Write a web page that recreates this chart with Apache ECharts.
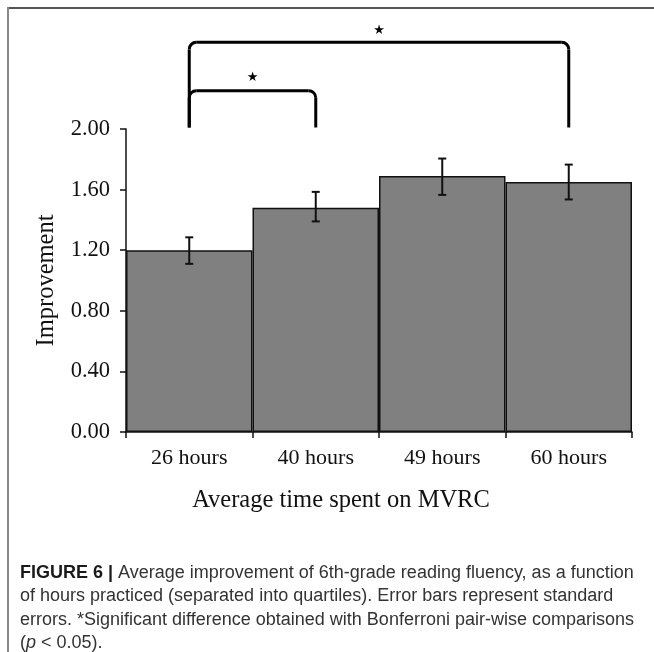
<!DOCTYPE html>
<html>
<head>
<meta charset="utf-8">
<script src="https://cdn.jsdelivr.net/npm/echarts@6/dist/echarts.min.js"></script>
<style>
html,body{margin:0;padding:0;background:#fff;}
#chart{width:654px;height:652px;}
</style>
</head>
<body>
<div id="chart"></div>
<script>
// ---- data ----
var categories = ['26 hours', '40 hours', '49 hours', '60 hours'];
var improvement = [1.20, 1.48, 1.69, 1.65];
var errLow = [1.11, 1.39, 1.565, 1.535];
var errHigh = [1.285, 1.585, 1.805, 1.765];
var yTicks = [0, 0.4, 0.8, 1.2, 1.6, 2.0];
// significance brackets
var bracketFrom = [0, 0];
var bracketTo = [1, 3];
var bracketTop = [2.253, 2.572];
var bracketLegBottom = [2.01, 2.01];
var bracketStar = [2.34, 2.652];
var captionBold = 'FIGURE 6 |';
var captionLines = [
  ' Average improvement of 6th-grade reading fluency, as a function',
  'of hours practiced (separated into quartiles). Error bars represent standard',
  'errors. *Significant difference obtained with Bonferroni pair-wise comparisons',
  '(p < 0.05).'
];

var serif = '"Liberation Serif", "Times New Roman", serif';
var sans = '"Liberation Sans", Arial, Helvetica, sans-serif';

var chart = echarts.init(document.getElementById('chart'), null, {renderer: 'canvas'});

var errData = categories.map(function (c, i) { return [i, errLow[i], errHigh[i]]; });
var bracketData = bracketFrom.map(function (f, i) {
  return [f, bracketTo[i], bracketTop[i], bracketLegBottom[i], bracketStar[i]];
});

function renderErr(params, api) {
  var x = api.value(0);
  var lo = api.coord([x, api.value(1)]);
  var hi = api.coord([x, api.value(2)]);
  var cap = 4;
  var st = {stroke: '#111', lineWidth: 2};
  return {
    type: 'group',
    children: [
      {type: 'line', shape: {x1: lo[0], y1: lo[1], x2: hi[0], y2: hi[1]}, style: st},
      {type: 'line', shape: {x1: lo[0] - cap, y1: lo[1], x2: lo[0] + cap, y2: lo[1]}, style: st},
      {type: 'line', shape: {x1: hi[0] - cap, y1: hi[1], x2: hi[0] + cap, y2: hi[1]}, style: st}
    ]
  };
}

function renderBracket(params, api) {
  var a = api.value(0), b = api.value(1);
  var top = api.value(2), bot = api.value(3), star = api.value(4);
  var pl = api.coord([a, top]);
  var pr = api.coord([b, top]);
  var bl = api.coord([a, bot]);
  var br = api.coord([b, bot]);
  var ps = api.coord([a, star]);
  var sx = (pl[0] + pr[0]) / 2;
  var r = 7;
  var st = {stroke: '#000', lineWidth: 3, fill: null};
  return {
    type: 'group',
    children: [
      {type: 'line', shape: {x1: bl[0], y1: bl[1], x2: pl[0], y2: pl[1] + r}, style: st},
      {type: 'line', shape: {x1: br[0], y1: br[1], x2: pr[0], y2: pr[1] + r}, style: st},
      {type: 'line', shape: {x1: pl[0] + r, y1: pl[1], x2: pr[0] - r, y2: pr[1]}, style: st},
      {type: 'arc', shape: {cx: pl[0] + r, cy: pl[1] + r, r: r, startAngle: Math.PI, endAngle: Math.PI * 1.5}, style: st},
      {type: 'arc', shape: {cx: pr[0] - r, cy: pr[1] + r, r: r, startAngle: Math.PI * 1.5, endAngle: Math.PI * 2}, style: st},
      {type: 'text', x: sx, y: ps[1], style: {text: '\u2605', font: '13px "DejaVu Sans", sans-serif', fill: '#000', align: 'center', verticalAlign: 'middle'}}
    ]
  };
}

var option = {
  animation: false,
  backgroundColor: '#fff',
  grid: {left: 126, right: 22, top: 129, bottom: 220, containLabel: false},
  xAxis: {
    type: 'category',
    data: categories,
    boundaryGap: true,
    name: 'Average time spent on MVRC',
    nameLocation: 'middle',
    nameGap: 56,
    nameTextStyle: {fontFamily: serif, fontSize: 24.5, color: '#111', padding: [0, 76, 0, 0]},
    axisLine: {lineStyle: {color: '#111', width: 1.5}},
    axisTick: {show: true, length: 6, lineStyle: {color: '#111', width: 1.5}},
    axisLabel: {fontFamily: serif, fontSize: 22, color: '#111', margin: 15}
  },
  yAxis: {
    type: 'value',
    min: 0,
    max: 2,
    interval: 0.4,
    name: 'Improvement',
    nameLocation: 'middle',
    nameGap: 67,
    nameTextStyle: {fontFamily: serif, fontSize: 24.5, color: '#111'},
    axisLine: {show: true, lineStyle: {color: '#111', width: 1.5}},
    axisTick: {show: true, length: 6, lineStyle: {color: '#111', width: 1.5}},
    splitLine: {show: false},
    axisLabel: {
      fontFamily: serif, fontSize: 22.5, color: '#111', margin: 16,
      formatter: function (v) { return v.toFixed(2); }
    }
  },
  series: [
    {
      type: 'bar',
      data: improvement,
      barWidth: '100%',
      barGap: '0%',
      itemStyle: {color: '#808080', borderColor: '#111', borderWidth: 1.5},
      z: 2
    },
    {
      type: 'custom',
      data: errData,
      renderItem: renderErr,
      z: 5
    },
    {
      type: 'custom',
      data: bracketData,
      renderItem: renderBracket,
      clip: false,
      z: 5
    }
  ],
  graphic: [
    {type: 'line', shape: {x1: 7, y1: 8, x2: 654, y2: 8}, style: {stroke: '#555', lineWidth: 2}},
    {type: 'line', shape: {x1: 8, y1: 7, x2: 8, y2: 652}, style: {stroke: '#888', lineWidth: 2}},
    {
      type: 'text', left: 20, top: 564,
      style: {
        text: '{b|' + captionBold + '}{r|' + captionLines[0] + '}\n{r|' + captionLines[1] + '}\n{r|' + captionLines[2] + '}\n{r|(}{i|p}{r|' + captionLines[3].slice(2) + '}',
        rich: {
          b: {fontFamily: sans, fontWeight: 'bold', fontSize: 18, fill: '#1a1a1a', lineHeight: 23.3},
          r: {fontFamily: sans, fontSize: 18, fill: '#333', lineHeight: 23.3},
          i: {fontFamily: sans, fontStyle: 'italic', fontSize: 18, fill: '#333', lineHeight: 23.3}
        }
      }
    }
  ]
};
chart.setOption(option);
</script>
</body>
</html>
